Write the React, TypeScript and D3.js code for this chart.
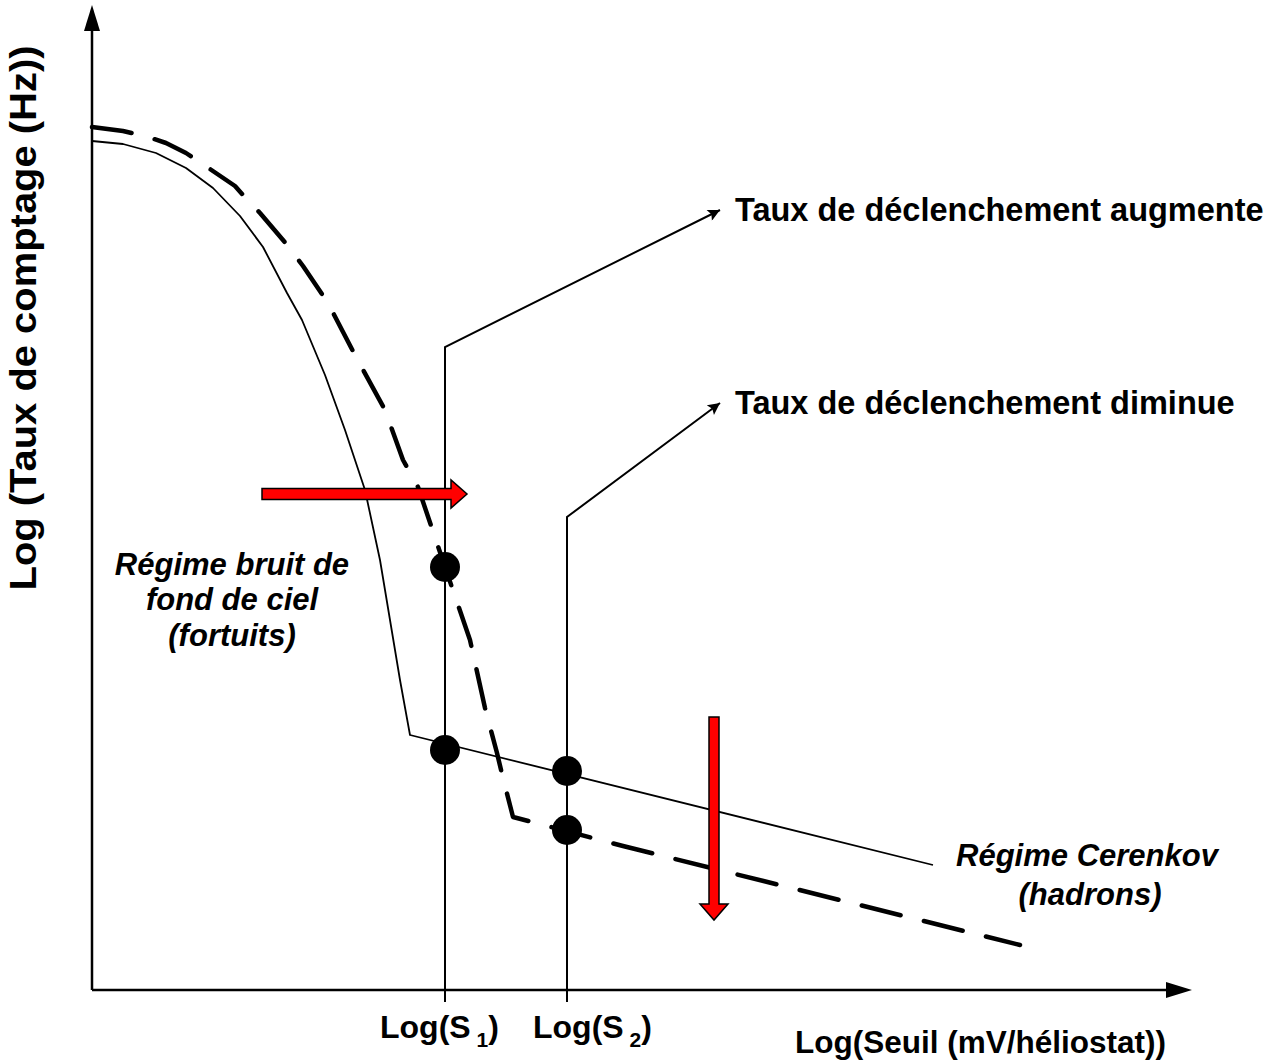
import * as d3 from 'd3';

// values, x = log threshold, y = log count rate (arbitrary units)
const solidCurve: [number, number][] = [
  [0, 849], [31, 846], [64, 837], [94, 822], [121, 802], [148, 774], [171, 743],
  [195, 697], [210, 670], [233, 615], [253, 560], [273, 500], [288, 430],
  [298, 370], [308, 310], [318, 255], [841, 125],
];
const dashedCurve: [number, number][] = [
  [0, 863], [31, 859], [53, 854], [74, 847], [94, 837], [115, 823], [143, 804],
  [151, 795], [168, 777], [196, 744], [211, 724], [236, 687], [263, 635],
  [293, 580], [311, 530], [326, 503], [353, 423], [378, 350], [393, 282],
  [405, 237], [410, 216], [421, 173], [531, 144], [928, 45],
];
const thresholds = [
  { name: 'S1', sub: '1', x: 353, top: 643, labelX: 288, target: [628, 780], text: 'Taux de déclenchement augmente' },
  { name: 'S2', sub: '2', x: 475, top: 473, labelX: 441, target: [628, 587], text: 'Taux de déclenchement diminue' },
];
const dots: [number, number][] = [[353, 423], [353, 240], [475, 219], [475, 160]];
const redArrowH = { x0: 170, x1: 375, y: 496 };
const redArrowV = { x: 622, y0: 273, y1: 70 };

const W = 1272;
const H = 1064;
const FONT = 'Arial, "Liberation Sans", Helvetica, sans-serif';

export default function App() {
  const x = d3.scaleLinear().domain([0, 1100]).range([92, 1192]);
  const y = d3.scaleLinear().domain([0, 985]).range([990, 5]);
  const line = d3.line<[number, number]>().x(d => x(d[0])).y(d => y(d[1]));

  const x0 = x(0), y0 = y(0);
  const xEnd = x(1100), yEnd = y(985);

  // red horizontal arrow
  const hx0 = x(redArrowH.x0), hx1 = x(redArrowH.x1), hy = y(redArrowH.y);
  const hPoly = [
    [hx0, hy - 5.5], [hx1 - 16, hy - 5.5], [hx1 - 16, hy - 14], [hx1, hy],
    [hx1 - 16, hy + 14], [hx1 - 16, hy + 5.5], [hx0, hy + 5.5],
  ].map(p => p.join(',')).join(' ');
  // red vertical arrow
  const vx = x(redArrowV.x), vy0 = y(redArrowV.y0), vy1 = y(redArrowV.y1);
  const vPoly = [
    [vx - 5, vy0], [vx + 5, vy0], [vx + 5, vy1 - 16], [vx + 14, vy1 - 16], [vx, vy1],
    [vx - 14, vy1 - 16], [vx - 5, vy1 - 16],
  ].map(p => p.join(',')).join(' ');

  return (
    <div style={{ position: 'absolute', left: 0, top: 0 }}>
      <svg width={W} height={H} style={{ display: 'block', background: '#fff' }} fontFamily={FONT}>
        <defs>
          <marker id="ah" viewBox="0 0 10 10" refX="10" refY="5" markerWidth="20" markerHeight="12"
            markerUnits="userSpaceOnUse" orient="auto">
            <path d="M0,0 L10,5 L0,10 L2,5 z" fill="#000" />
          </marker>
        </defs>

        {/* axes */}
        <line x1={x0} y1={y0} x2={xEnd - 20} y2={y0} stroke="#000" strokeWidth={2.5} />
        <path d={`M${xEnd},${y0} L${xEnd - 26},${y0 - 8} L${xEnd - 26},${y0 + 8} Z`} fill="#000" />
        <line x1={x0} y1={y0} x2={x0} y2={yEnd + 20} stroke="#000" strokeWidth={2.5} />
        <path d={`M${x0},${yEnd} L${x0 - 8},${yEnd + 26} L${x0 + 8},${yEnd + 26} Z`} fill="#000" />

        {/* threshold guides with callouts */}
        {thresholds.map(t => (
          <g key={t.name}>
            <polyline
              points={`${x(t.x)},${y(-12)} ${x(t.x)},${y(t.top)} ${x(t.target[0])},${y(t.target[1])}`}
              fill="none" stroke="#000" strokeWidth={2} markerEnd="url(#ah)" />
            <text x={x(t.target[0]) + 15} y={y(t.target[1]) + 11} fontSize={32.5} fontWeight="bold">{t.text}</text>
            <text x={x(t.labelX)} y={y(-48)} fontSize={32} fontWeight="bold">
              Log(S<tspan fontSize={21} dy={9}> {t.sub}</tspan><tspan dy={-9}>)</tspan>
            </text>
          </g>
        ))}

        {/* curves */}
        <path d={line(solidCurve) ?? ''} fill="none" stroke="#000" strokeWidth={1.8} strokeLinejoin="round" />
        <path d={line(dashedCurve) ?? ''} fill="none" stroke="#000" strokeWidth={4.5}
          strokeDasharray="40 24" strokeLinecap="round" strokeLinejoin="round" />

        {dots.map((d, i) => (
          <circle key={i} cx={x(d[0])} cy={y(d[1])} r={15} fill="#000" />
        ))}

        {/* red arrows */}
        <polygon points={hPoly} fill="#ff0000" stroke="#000" strokeWidth={1.5} />
        <polygon points={vPoly} fill="#ff0000" stroke="#000" strokeWidth={1.5} />

        {/* regime labels */}
        <g fontSize={31} fontWeight="bold" fontStyle="italic" textAnchor="middle">
          <text x={x(140)} y={y(415)}>Régime bruit de</text>
          <text x={x(140)} y={y(380)}>fond de ciel</text>
          <text x={x(140)} y={y(344)}>(fortuits)</text>
          <text x={x(995)} y={y(124)}>Régime Cerenkov</text>
          <text x={x(998)} y={y(85)}>(hadrons)</text>
        </g>

        {/* axis titles */}
        <text x={x(703)} y={y(-63)} fontSize={31.5} fontWeight="bold">Log(Seuil (mV/héliostat))</text>
        <text transform={`translate(36,${y(672)}) rotate(-90)`} textAnchor="middle" fontSize={37}
          fontWeight="bold" textLength={545} lengthAdjust="spacingAndGlyphs">Log (Taux de comptage (Hz))</text>
      </svg>
    </div>
  );
}
